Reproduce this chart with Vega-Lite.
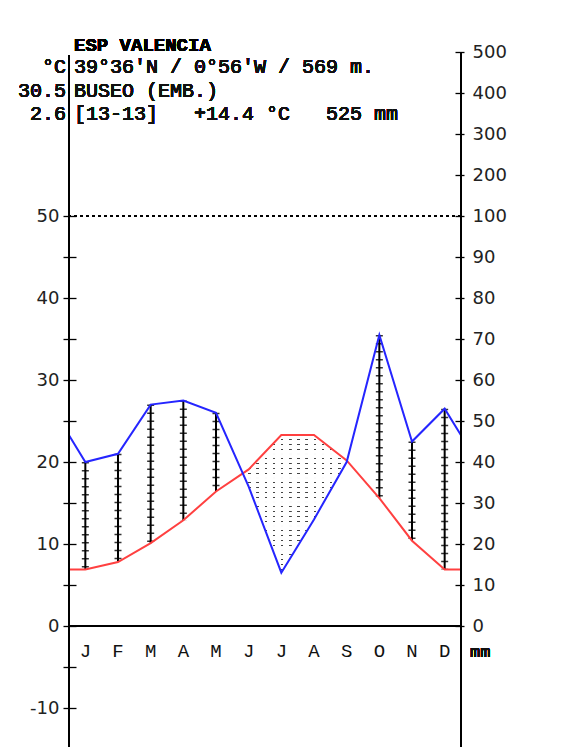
{
  "$schema": "https://vega.github.io/schema/vega-lite/v6.json",
  "width": 392,
  "height": 695,
  "autosize": {"type": "none"},
  "padding": {"left": 69, "top": 52, "right": 125, "bottom": 0},
  "background": "white",
  "config": {"view": {"stroke": null}},
  "data": {
    "values": [
      {"month": "edge", "label": "", "mon": 0.5, "t": 6.9, "p": 46.5},
      {"month": "Jan", "label": "J", "mon": 1, "t": 6.9, "p": 40},
      {"month": "Feb", "label": "F", "mon": 2, "t": 7.8, "p": 42},
      {"month": "Mar", "label": "M", "mon": 3, "t": 10.1, "p": 54},
      {"month": "Apr", "label": "A", "mon": 4, "t": 12.9, "p": 55},
      {"month": "May", "label": "M", "mon": 5, "t": 16.4, "p": 52},
      {"month": "Jun", "label": "J", "mon": 6, "t": 19.1, "p": 34},
      {"month": "Jul", "label": "J", "mon": 7, "t": 23.3, "p": 13},
      {"month": "Aug", "label": "A", "mon": 8, "t": 23.3, "p": 26},
      {"month": "Sep", "label": "S", "mon": 9, "t": 20.2, "p": 40},
      {"month": "Oct", "label": "O", "mon": 10, "t": 15.6, "p": 71},
      {"month": "Nov", "label": "N", "mon": 11, "t": 10.4, "p": 45},
      {"month": "Dec", "label": "D", "mon": 12, "t": 6.9, "p": 53},
      {"month": "edge", "label": "", "mon": 12.5, "t": 6.9, "p": 46.5}
    ]
  },
  "resolve": {"scale": {"y": "independent"}, "axis": {"y": "independent"}},
  "layer": [
    {
      "mark": {"type": "rule", "color": "#444444", "strokeWidth": 192, "strokeDash": [1.6, 6.57]},
      "encoding": {
        "x": {"datum": 5.75, "type": "quantitative", "scale": {"domain": [0.5, 12.5], "nice": false, "zero": false}, "axis": null},
        "x2": {"datum": 9.3},
        "y": {"datum": 12.25, "type": "quantitative", "scale": {"domain": [-14.756, 70], "nice": false, "zero": false}, "axis": null}
      }
    },
    {
      "mark": {"type": "rule", "color": "white", "strokeWidth": 125, "strokeDash": [3.2, 1.6]},
      "encoding": {
        "x": {"datum": 7.5, "type": "quantitative", "scale": {"domain": [0.5, 12.5], "nice": false, "zero": false}, "axis": null},
        "y": {"datum": 0, "type": "quantitative", "scale": {"domain": [-14.756, 70], "nice": false, "zero": false}, "axis": null},
        "y2": {"datum": 25}
      }
    },
    {
      "mark": {"type": "area", "color": "white", "opacity": 1},
      "encoding": {
        "x": {"field": "mon", "type": "quantitative", "scale": {"domain": [0.5, 12.5], "nice": false, "zero": false}, "axis": null},
        "y": {"field": "t", "type": "quantitative", "scale": {"domain": [-14.756, 70], "nice": false, "zero": false}, "axis": null},
        "y2": {"datum": 25}
      }
    },
    {
      "mark": {"type": "area", "color": "white", "opacity": 1},
      "encoding": {
        "x": {"field": "mon", "type": "quantitative", "scale": {"domain": [0.5, 12.5], "nice": false, "zero": false}, "axis": null},
        "y": {"field": "p", "type": "quantitative", "scale": {"domain": [-29.512, 140], "nice": false, "zero": false}, "axis": null},
        "y2": {"datum": 0}
      }
    },
    {
      "transform": [{"filter": {"field": "month", "oneOf": ["Jan", "Feb", "Mar", "Apr", "May", "Oct", "Nov", "Dec"]}}],
      "mark": {"type": "rule", "color": "#333333", "strokeWidth": 7, "strokeDash": [1.5, 6.5]},
      "encoding": {
        "x": {"field": "mon", "type": "quantitative", "scale": {"domain": [0.5, 12.5], "nice": false, "zero": false}, "axis": null},
        "y": {"field": "p", "type": "quantitative", "scale": {"domain": [-29.512, 140], "nice": false, "zero": false}, "axis": null},
        "y2": {"datum": 0}
      }
    },
    {
      "transform": [{"filter": {"field": "month", "oneOf": ["Jan", "Feb", "Mar", "Apr", "May", "Oct", "Nov", "Dec"]}}],
      "mark": {"type": "rule", "color": "black", "strokeWidth": 2},
      "encoding": {
        "x": {"field": "mon", "type": "quantitative", "scale": {"domain": [0.5, 12.5], "nice": false, "zero": false}, "axis": null},
        "y": {"field": "p", "type": "quantitative", "scale": {"domain": [-29.512, 140], "nice": false, "zero": false}, "axis": null},
        "y2": {"datum": 0}
      }
    },
    {
      "transform": [{"filter": {"field": "month", "oneOf": ["Jan", "Feb", "Mar", "Apr", "May", "Oct", "Nov", "Dec"]}}],
      "mark": {"type": "rule", "color": "white", "strokeWidth": 10},
      "encoding": {
        "x": {"field": "mon", "type": "quantitative", "scale": {"domain": [0.5, 12.5], "nice": false, "zero": false}, "axis": null},
        "y": {"field": "t", "type": "quantitative", "scale": {"domain": [-14.756, 70], "nice": false, "zero": false}, "axis": null},
        "y2": {"datum": 0}
      }
    },
    {
      "mark": {"type": "rule", "color": "black", "strokeWidth": 1.2, "strokeDash": [3, 3]},
      "encoding": {
        "y": {"datum": 50, "type": "quantitative", "scale": {"domain": [-14.756, 70], "nice": false, "zero": false}, "axis": null}
      }
    },
    {
      "mark": {"type": "line", "color": "#ff4040", "strokeWidth": 2},
      "encoding": {
        "x": {"field": "mon", "type": "quantitative", "scale": {"domain": [0.5, 12.5], "nice": false, "zero": false},
          "axis": {"values": [1, 2, 3, 4, 5, 6, 7, 8, 9, 10, 11, 12], "labels": false, "domain": false, "grid": false, "title": null,
            "tickOffset": 16.33, "tickSize": 13, "offset": -127.5, "tickColor": "black", "tickWidth": 1.3, "zindex": 2}},
        "y": {"field": "t", "type": "quantitative", "scale": {"domain": [-14.756, 70], "nice": false, "zero": false},
          "axis": {"orient": "left", "values": [-10, -5, 0, 5, 10, 15, 20, 25, 30, 35, 40, 45, 50],
            "labelExpr": "datum.value % 10 === 0 ? '' + datum.value : ''",
            "domain": false, "grid": false, "title": null, "offset": -7, "tickSize": 13, "tickColor": "black", "tickWidth": 1.3,
            "labelFont": "DejaVu Sans", "labelFontSize": 18, "labelColor": "#222222", "labelPadding": 4,
            "labelOverlap": false, "labelBound": false, "zindex": 2}}
      }
    },
    {
      "mark": {"type": "line", "color": "#2525ff", "strokeWidth": 2},
      "encoding": {
        "x": {"field": "mon", "type": "quantitative", "scale": {"domain": [0.5, 12.5], "nice": false, "zero": false}, "axis": null},
        "y": {"field": "p", "type": "quantitative", "scale": {"domain": [-29.512, 140], "nice": false, "zero": false},
          "axis": {"orient": "right", "values": [0, 10, 20, 30, 40, 50, 60, 70, 80, 90, 100, 110, 120, 130, 140],
            "labelExpr": "datum.value > 100 ? '' + ((datum.value - 100) * 10 + 100) : '' + datum.value",
            "domain": false, "grid": false, "title": null, "offset": -6, "tickSize": 9, "tickColor": "black", "tickWidth": 1.3,
            "labelFont": "DejaVu Sans", "labelFontSize": 18, "labelColor": "#222222", "labelPadding": 8,
            "labelOverlap": false, "labelBound": false, "zindex": 2}}
      }
    },
    {
      "mark": {"type": "rule", "color": "black", "strokeWidth": 1.6},
      "encoding": {
        "x": {"datum": 0.5, "type": "quantitative", "scale": {"domain": [0.5, 12.5], "nice": false, "zero": false}, "axis": null},
        "y": {"datum": 69.6, "type": "quantitative", "scale": {"domain": [-14.756, 70], "nice": false, "zero": false}, "axis": null},
        "y2": {"datum": -14.756}
      }
    },
    {
      "mark": {"type": "rule", "color": "black", "strokeWidth": 1.6},
      "encoding": {
        "x": {"datum": 12.5, "type": "quantitative", "scale": {"domain": [0.5, 12.5], "nice": false, "zero": false}, "axis": null},
        "y": {"datum": 70, "type": "quantitative", "scale": {"domain": [-14.756, 70], "nice": false, "zero": false}, "axis": null},
        "y2": {"datum": -14.756}
      }
    },
    {
      "mark": {"type": "rule", "color": "black", "strokeWidth": 1.6},
      "encoding": {
        "y": {"datum": 0, "type": "quantitative", "scale": {"domain": [-14.756, 70], "nice": false, "zero": false}, "axis": null}
      }
    },
    {
      "transform": [{"filter": {"not": {"field": "month", "equal": "edge"}}}],
      "mark": {"type": "text", "font": "Liberation Mono", "fontSize": 19, "color": "#111111", "align": "center", "baseline": "alphabetic"},
      "encoding": {
        "x": {"field": "mon", "type": "quantitative", "scale": {"domain": [0.5, 12.5], "nice": false, "zero": false}, "axis": null},
        "y": {"datum": -3.84, "type": "quantitative", "scale": {"domain": [-14.756, 70], "nice": false, "zero": false}, "axis": null},
        "text": {"field": "label"}
      }
    },
    {
      "mark": {"type": "text", "text": "mm", "font": "Liberation Mono", "fontSize": 17, "color": "#111111", "align": "left", "baseline": "alphabetic", "dx": 9},
      "encoding": {
        "x": {"datum": 12.5, "type": "quantitative", "scale": {"domain": [0.5, 12.5], "nice": false, "zero": false}, "axis": null},
        "y": {"datum": -3.84, "type": "quantitative", "scale": {"domain": [-14.756, 70], "nice": false, "zero": false}, "axis": null}
      }
    },
    {
      "mark": {"type": "text", "text": "ESP VALENCIA", "font": "Liberation Mono", "fontWeight": "bold", "fontSize": 19, "color": "black", "align": "left", "baseline": "alphabetic", "dx": 5},
      "encoding": {
        "x": {"datum": 0.5, "type": "quantitative", "scale": {"domain": [0.5, 12.5], "nice": false, "zero": false}, "axis": null},
        "y": {"datum": 70.1, "type": "quantitative", "scale": {"domain": [-14.756, 70], "nice": false, "zero": false}, "axis": null}
      }
    },
    {
      "mark": {"type": "text", "text": "39°36'N / 0°56'W / 569 m.", "font": "Liberation Mono", "fontSize": 20, "color": "#111111", "align": "left", "baseline": "alphabetic", "dx": 5},
      "encoding": {
        "x": {"datum": 0.5, "type": "quantitative", "scale": {"domain": [0.5, 12.5], "nice": false, "zero": false}, "axis": null},
        "y": {"datum": 67.5, "type": "quantitative", "scale": {"domain": [-14.756, 70], "nice": false, "zero": false}, "axis": null}
      }
    },
    {
      "mark": {"type": "text", "text": "BUSEO (EMB.)", "font": "Liberation Mono", "fontSize": 20, "color": "#111111", "align": "left", "baseline": "alphabetic", "dx": 5},
      "encoding": {
        "x": {"datum": 0.5, "type": "quantitative", "scale": {"domain": [0.5, 12.5], "nice": false, "zero": false}, "axis": null},
        "y": {"datum": 64.57, "type": "quantitative", "scale": {"domain": [-14.756, 70], "nice": false, "zero": false}, "axis": null}
      }
    },
    {
      "mark": {"type": "text", "text": "[13-13]\u00a0\u00a0\u00a0+14.4\u00a0°C\u00a0\u00a0\u00a0525\u00a0mm", "font": "Liberation Mono", "fontSize": 20, "color": "#111111", "align": "left", "baseline": "alphabetic", "dx": 5},
      "encoding": {
        "x": {"datum": 0.5, "type": "quantitative", "scale": {"domain": [0.5, 12.5], "nice": false, "zero": false}, "axis": null},
        "y": {"datum": 61.71, "type": "quantitative", "scale": {"domain": [-14.756, 70], "nice": false, "zero": false}, "axis": null}
      }
    },
    {
      "mark": {"type": "text", "text": "°C", "font": "Liberation Mono", "fontSize": 20, "color": "#111111", "align": "right", "baseline": "alphabetic", "dx": -3},
      "encoding": {
        "x": {"datum": 0.5, "type": "quantitative", "scale": {"domain": [0.5, 12.5], "nice": false, "zero": false}, "axis": null},
        "y": {"datum": 67.5, "type": "quantitative", "scale": {"domain": [-14.756, 70], "nice": false, "zero": false}, "axis": null}
      }
    },
    {
      "mark": {"type": "text", "text": "30.5", "font": "Liberation Mono", "fontSize": 20, "color": "#111111", "align": "right", "baseline": "alphabetic", "dx": -3},
      "encoding": {
        "x": {"datum": 0.5, "type": "quantitative", "scale": {"domain": [0.5, 12.5], "nice": false, "zero": false}, "axis": null},
        "y": {"datum": 64.57, "type": "quantitative", "scale": {"domain": [-14.756, 70], "nice": false, "zero": false}, "axis": null}
      }
    },
    {
      "mark": {"type": "text", "text": "2.6", "font": "Liberation Mono", "fontSize": 20, "color": "#111111", "align": "right", "baseline": "alphabetic", "dx": -3},
      "encoding": {
        "x": {"datum": 0.5, "type": "quantitative", "scale": {"domain": [0.5, 12.5], "nice": false, "zero": false}, "axis": null},
        "y": {"datum": 61.71, "type": "quantitative", "scale": {"domain": [-14.756, 70], "nice": false, "zero": false}, "axis": null}
      }
    }
  ]
}
